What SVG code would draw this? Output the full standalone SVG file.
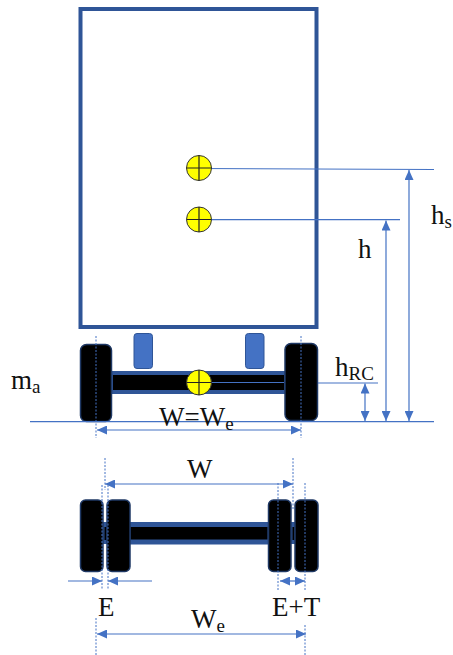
<svg xmlns="http://www.w3.org/2000/svg" width="453" height="655" viewBox="0 0 453 655">
<style>
.w{fill:#000;stroke:#1f3864;stroke-width:1.5}
.ax{fill:#000;stroke:#2f5597;stroke-width:4}
.ax2{fill:#000;stroke:#2f5597;stroke-width:5}
.sh{fill:#4472c4;stroke:#2f5597;stroke-width:1}
.cg{fill:#ff0;stroke:#333;stroke-width:1}
.cr{stroke:#222;stroke-width:1.2;fill:none}
.l{stroke:#4472c4;stroke-width:1.2;fill:none}
.a{stroke:#4472c4;stroke-width:1.2;fill:none;marker-end:url(#ah);marker-start:url(#as)}
.d{stroke:#4472c4;stroke-width:1;stroke-dasharray:2 1.5;fill:none}
.e{stroke:#4472c4;stroke-width:1.2;fill:none;marker-end:url(#ah)}
text{font-family:"Liberation Serif",serif;font-size:27px;fill:#111}
.s{font-size:19px}
</style>
<defs>
<marker id="ah" markerUnits="userSpaceOnUse" markerWidth="10" markerHeight="9" refX="10" refY="4.5" orient="auto"><path d="M0 0L10 4.5L0 9z" fill="#4472c4"/></marker>
<marker id="as" markerUnits="userSpaceOnUse" markerWidth="10" markerHeight="9" refX="0" refY="4.5" orient="auto"><path d="M10 0L0 4.5L10 9z" fill="#4472c4"/></marker>
<g id="cgm"><circle r="12.5" class="cg"/><path d="M-12.5 0H12.5M0-12.5V12.5" class="cr"/></g>
</defs>
<g id="body"><rect x="80.5" y="9" width="236" height="318" fill="#fff" stroke="#2f5597" stroke-width="4"/></g>
<g id="front-axle">
<rect x="111" y="373" width="175" height="19" class="ax"/>
<rect class="w" x="80.500" y="344.500" width="31" height="77" rx="6"/>
<rect class="w" x="285" y="343.500" width="32.500" height="77" rx="6"/>
<rect class="sh" x="134" y="333.500" width="18.500" height="35" rx="3"/>
<rect class="sh" x="245.500" y="333.500" width="18.500" height="35" rx="3"/>
</g>
<g id="rear-axle">
<rect x="128" y="524.500" width="142" height="17.500" class="ax2"/>
<rect x="102" y="522" width="6" height="22" fill="#2f5597"/>
<rect x="290" y="522" width="6" height="22" fill="#2f5597"/>
<rect x="104.500" y="527" width="2" height="13" fill="#000"/>
<rect x="292.500" y="527" width="2" height="13" fill="#000"/>
<rect class="w" x="80.500" y="500" width="22.500" height="71.500" rx="5"/>
<rect class="w" x="107" y="500" width="23" height="71.500" rx="5"/>
<rect class="w" x="268.500" y="500" width="22.500" height="71.500" rx="5"/>
<rect class="w" x="295" y="500" width="23" height="71.500" rx="5"/>
</g>
<g id="connectors">
<path class="l" d="M30 421.700H434M199 168.500L434 169.500M199 219.700H400M199 382.500H284M318 383H378"/>
<path class="a" d="M365 383.500V421"/>
<path class="a" d="M386 421V220.500"/>
<path class="a" d="M409 421V170"/>
<path class="a" d="M97 430H301"/>
<path class="d" d="M96 336V438M301 336V438"/>
<path class="a" d="M105 484H293"/>
<path class="e" d="M68 581H102"/>
<path class="e" d="M152 581H108"/>
<path class="a" d="M280 581H305"/>
<path class="a" d="M97 634H306"/>
<path class="d" d="M105 458V490M102 485V590M108 485V590M293 458V510M278 483V590M305 483V590M96 618V655M305 625V655"/>
</g>
<g id="cg-sprung"><use href="#cgm" x="199" y="168"/></g>
<g id="cg-body"><use href="#cgm" x="199" y="219.500"/></g>
<g id="roll-centre"><use href="#cgm" x="199" y="382.500"/></g>
<g id="labels">
<text x="11" y="389">m<tspan class="s" dy="4">a</tspan></text>
<text x="335" y="376">h<tspan class="s" dy="4">RC</tspan></text>
<text x="358" y="258">h</text>
<text x="431" y="224">h<tspan class="s" dy="4">s</tspan></text>
<text x="159" y="426">W=W<tspan class="s" dy="4">e</tspan></text>
<text x="187" y="478">W</text>
<text x="98" y="616">E</text>
<text x="272" y="616">E+T</text>
<text x="191" y="628">W<tspan class="s" dy="4">e</tspan></text>
</g>
</svg>
